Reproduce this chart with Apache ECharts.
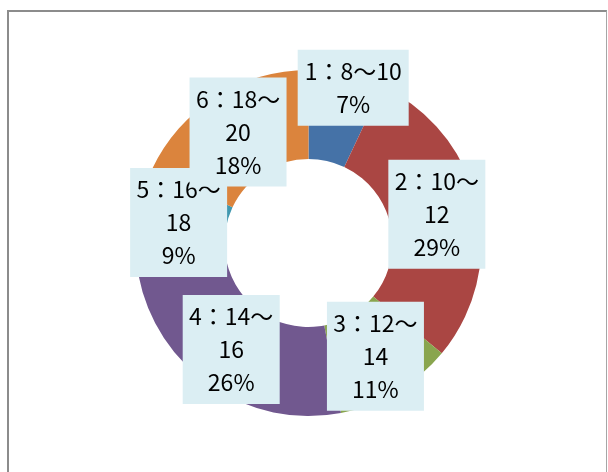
<!DOCTYPE html>
<html>
<head>
<meta charset="utf-8">
<script src="https://cdn.jsdelivr.net/npm/echarts@6/dist/echarts.min.js"></script>
<style>
html, body {
    margin: 0;
    padding: 0;
    background: #ffffff;
}
.frame {
    position: absolute;
    left: 7px;
    top: 10px;
    width: 597px;
    height: 480px;
    border-left: 2px solid #8c8c8c;
    border-top: 2px solid #8c8c8c;
    border-right: 1px solid #a6a6a6;
    z-index: 1;
    pointer-events: none;
}
#chart {
    position: absolute;
    left: 0;
    top: 0;
    width: 608px;
    height: 472px;
}
</style>
</head>
<body>
<div class="frame"></div>
<div id="chart"></div>
<script>
// 区间名称
var ranges = ['1：8～10', '2：10～12', '3：12～14', '4：14～16', '5：16～18', '6：18～20']
// 占比(%)
var shares = [7, 29, 11, 26, 9, 18]
var colors = ['#4572A7', '#AA4643', '#89A54E', '#71588F', '#4198AF', '#DB843D']

var data = []
ranges.forEach((item, index) => {
    var d = {name: item, value: shares[index]}
    if (index == 0) {
        // 第一个标签往上挪，避免和6号重叠
        d.label = {width: 103, offset: [16, -27]}
    }
    data.push(d)
})

var chart = echarts.init(document.getElementById('chart'))
chart.setOption({
    color: colors,
    animation: false,
    series: [{
        type: 'pie',
        center: [308.5, 243],
        radius: [84, 173],
        startAngle: 90,
        clockwise: true,
        percentPrecision: 0,
        avoidLabelOverlap: false,
        itemStyle: {borderWidth: 0},
        label: {
            show: true,
            position: 'inside',
            formatter: '{b}\n{d}%',
            fontFamily: '"Noto Sans CJK JP", "Noto Sans"',
            fontSize: 23,
            lineHeight: 33,
            color: '#000000',
            backgroundColor: '#DBEEF3',
            padding: [5, 4],
            width: 89,
            overflow: 'break',
            align: 'center'
        },
        labelLayout: {hideOverlap: false},
        labelLine: {show: false},
        emphasis: {disabled: true},
        data: data
    }]
})
</script>
</body>
</html>
